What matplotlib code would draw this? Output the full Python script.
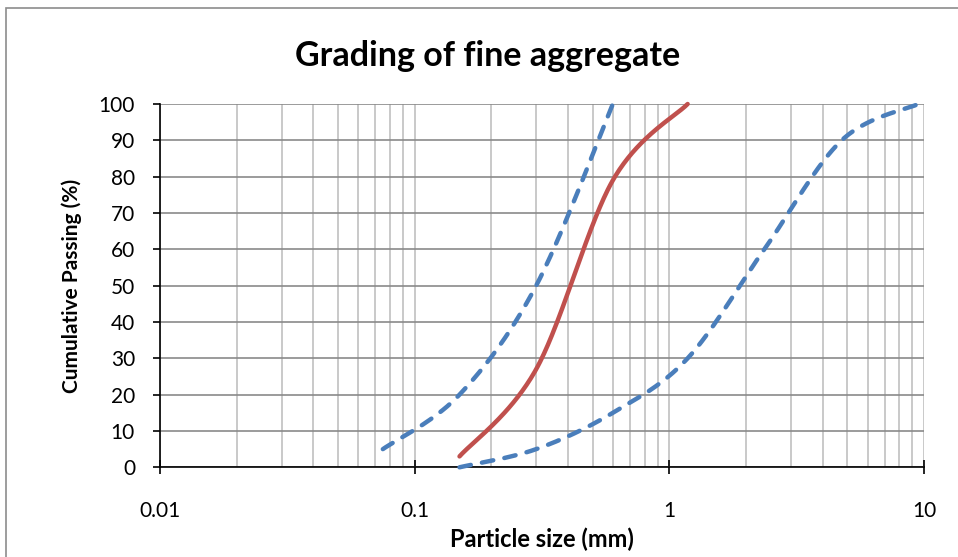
import numpy as np
import matplotlib
matplotlib.use("Agg")
import matplotlib.pyplot as plt
from matplotlib.ticker import LogLocator, FixedLocator, NullFormatter
from matplotlib.patches import Rectangle

plt.rcParams['font.family'] = ['Lato', 'DejaVu Sans']

# Sieve sizes (mm) and cumulative passing (%)
sample_size = [0.15, 0.3, 0.6, 1.18]
sample_pass = [3, 27, 79, 100]

fine_limit_size = [0.075, 0.15, 0.3, 0.6]
fine_limit_pass = [5, 20, 50, 100]

coarse_limit_size = [0.15, 0.3, 0.6, 1.18, 2.36, 4.75, 9.5]
coarse_limit_pass = [0, 5, 15, 30, 60, 90, 100]

y_ticks = [0, 10, 20, 30, 40, 50, 60, 70, 80, 90, 100]
x_ticks = [0.01, 0.1, 1, 10]
x_tick_labels = ["0.01", "0.1", "1", "10"]


def smooth(xs, ys, n=60):
    """Spreadsheet-style smoothed line: cubic Bezier segments with
    Catmull-Rom control points, built in log10(x) space."""
    u = np.log10(np.asarray(xs, float))
    v = np.asarray(ys, float)
    P = np.column_stack([u, v])
    m = len(P)
    out = [P[0]]
    t = np.linspace(0, 1, n)[1:, None]
    for i in range(m - 1):
        p0 = P[i - 1] if i > 0 else P[i]
        p1 = P[i]
        p2 = P[i + 1]
        p3 = P[i + 2] if i + 2 < m else P[i + 1]
        c1 = p1 + (p2 - p0) / 6.0
        c2 = p2 - (p3 - p1) / 6.0
        seg = ((1 - t) ** 3) * p1 + 3 * ((1 - t) ** 2) * t * c1 \
            + 3 * (1 - t) * t ** 2 * c2 + t ** 3 * p2
        out.extend(seg)
    out = np.array(out)
    return 10 ** out[:, 0], out[:, 1]


fig = plt.figure(figsize=(9.58, 5.57), dpi=100)
ax = fig.add_axes([160 / 958, 1 - 467.3 / 557, (924 - 160) / 958, (467.3 - 104) / 557])

# chart-area border
fig.patches.append(Rectangle((6 / 958, -0.05), 1.2, 1 - 8 / 557 + 0.05,
                             transform=fig.transFigure, fill=False,
                             edgecolor='#8c8c8c', linewidth=1.2, zorder=0))

ax.set_xscale('log')
ax.set_xlim(0.01, 10)
ax.set_ylim(0, 100)

ax.xaxis.set_major_locator(FixedLocator(x_ticks))
ax.set_xticklabels(x_tick_labels)
ax.xaxis.set_minor_locator(LogLocator(base=10, subs=np.arange(2, 10)))
ax.xaxis.set_minor_formatter(NullFormatter())
ax.set_yticks(y_ticks)

ax.grid(True, axis='x', which='both', color='#c0c0c0', linewidth=1.2, zorder=0)
ax.grid(True, axis='y', which='major', color='#8a8a8a', linewidth=1.2, zorder=0)
ax.set_axisbelow(True)

for side in ['top', 'right']:
    ax.spines[side].set_visible(False)
for side in ['left', 'bottom']:
    ax.spines[side].set_color('black')
    ax.spines[side].set_linewidth(1.2)

ax.tick_params(axis='y', which='major', direction='out', length=5, width=1.2,
               labelsize=15, pad=13)
ax.tick_params(axis='x', which='major', direction='inout', length=10, width=1.2,
               labelsize=15, pad=19)
ax.tick_params(axis='x', which='minor', length=0)

dash = (0, (2.6, 2.55))
xs, ys = smooth(fine_limit_size, fine_limit_pass)
ax.plot(xs, ys, color='#4a7ebb', linewidth=3.2, linestyle=dash,
        dash_capstyle='round', clip_on=False, zorder=3)
xs, ys = smooth(coarse_limit_size, coarse_limit_pass)
ax.plot(xs, ys, color='#4a7ebb', linewidth=3.2, linestyle=dash,
        dash_capstyle='round', clip_on=False, zorder=3)
xs, ys = smooth(sample_size, sample_pass)
ax.plot(xs, ys, color='#c0504d', linewidth=3.2, solid_capstyle='round',
        clip_on=False, zorder=4)

fig.text(0.5085, 1 - 56 / 557, "Grading of fine aggregate", ha='center', va='center',
         fontsize=24.5, fontweight='bold')
ax.set_xlabel("Particle size (mm)", fontsize=17, fontweight='bold', labelpad=5)
ax.set_ylabel("Cumulative Passing (%)", fontsize=15, fontweight='bold', labelpad=12)

fig.savefig("out.png", dpi=100)
